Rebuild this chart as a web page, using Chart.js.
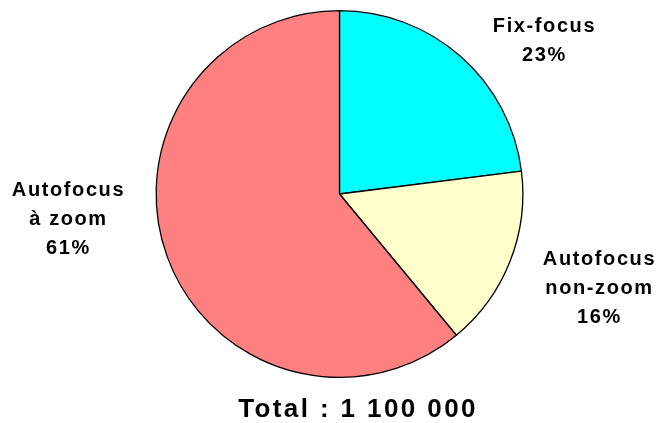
<!DOCTYPE html>
<html>
<head>
<meta charset="utf-8">
<script src="https://cdn.jsdelivr.net/npm/chart.js@4/dist/chart.umd.min.js"></script>
<style>
  html, body { margin: 0; padding: 0; background: #fff; }
  #wrap { width: 659px; height: 423px; position: relative; }
</style>
</head>
<body>
<div id="wrap"><canvas id="pie" width="659" height="423"></canvas></div>
<script>
const categories = ['Fix-focus', 'Autofocus non-zoom', 'Autofocus à zoom'];
const shares = [23, 16, 61];
const labelLines = [
  ['Fix-focus', '23%'],
  ['Autofocus', 'non-zoom', '16%'],
  ['Autofocus', 'à zoom', '61%']
];
const totalText = 'Total : 1 100 000';
const colors = ['#00FFFF', '#FFFFCC', '#FF8080'];

// label anchor (centre of the first line), relative to the pie centre
const labelOffsets = [
  [205, -168],
  [260, 65],
  [-271, -4]
];

const textPlugin = {
  id: 'pieText',
  afterDraw(chart) {
    const ctx = chart.ctx;
    const arc = chart.getDatasetMeta(0).data[0];
    const cx = arc.x, cy = arc.y;
    ctx.save();
    ctx.fillStyle = '#000';
    ctx.textAlign = 'center';
    ctx.textBaseline = 'middle';
    ctx.font = 'bold 20px "Liberation Sans", Arial, sans-serif';
    ctx.letterSpacing = '1.6px';
    labelLines.forEach((lines, i) => {
      const [dx, dy] = labelOffsets[i];
      lines.forEach((t, j) => {
        ctx.fillText(t, cx + dx, cy + dy + j * 29);
      });
    });
    ctx.font = 'bold 26px "Liberation Sans", Arial, sans-serif';
    ctx.letterSpacing = '2.4px';
    ctx.fillText(totalText, 358, 410);
    ctx.restore();
  }
};

new Chart(document.getElementById('pie'), {
  type: 'pie',
  data: {
    labels: categories,
    datasets: [{
      data: shares,
      backgroundColor: colors,
      borderColor: '#000',
      borderWidth: 1.3,
      hoverOffset: 0
    }]
  },
  options: {
    responsive: false,
    animation: false,
    layout: { padding: { left: 155, right: 135, top: 10, bottom: 45 } },
    plugins: {
      legend: { display: false },
      tooltip: { enabled: false }
    }
  },
  plugins: [textPlugin]
});
</script>
</body>
</html>
